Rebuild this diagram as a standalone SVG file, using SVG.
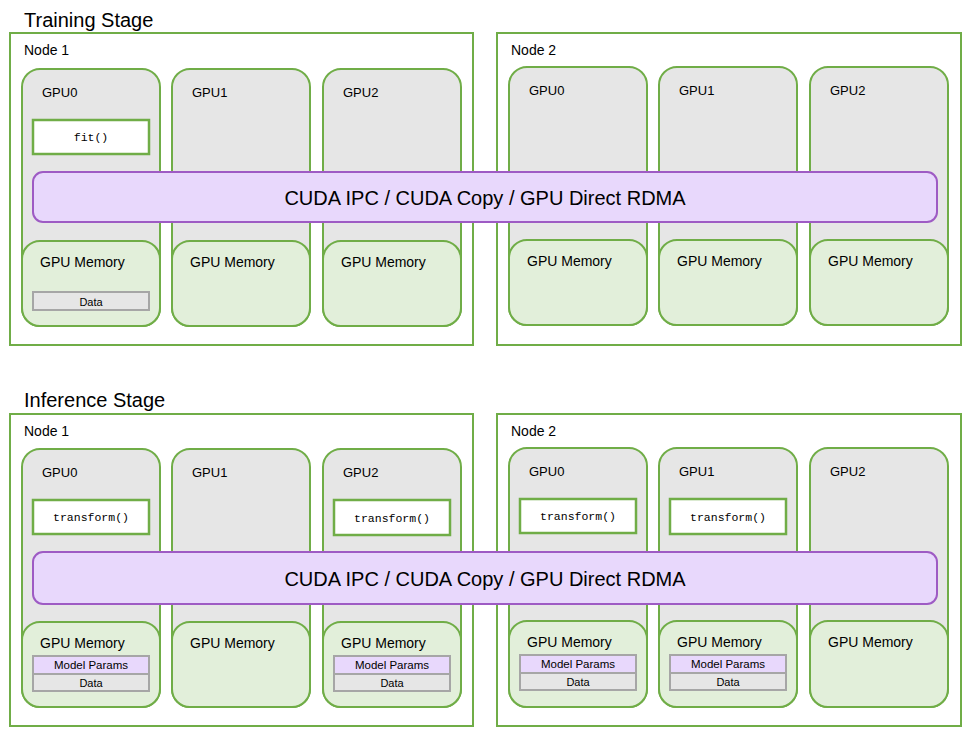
<svg xmlns="http://www.w3.org/2000/svg" width="968" height="737" viewBox="0 0 968 737">
<style>
.t{font-family:"Liberation Sans",Arial,sans-serif;fill:#000}
.title{font-size:20px}
.node{fill:#fff;stroke:#70ad47;stroke-width:2}
.gpu{fill:#e6e6e6;stroke:#70ad47;stroke-width:2}
.mem{fill:#e2efda;stroke:#70ad47;stroke-width:2}
.fn{fill:#fff;stroke:#70ad47;stroke-width:2.5}
.bar{fill:#e8d8fc;stroke:#9e5bc4;stroke-width:2}
.data{fill:#e6e6e6;stroke:#a6a6a6;stroke-width:2}
.mp{fill:#e8d8fc;stroke:#a6a6a6;stroke-width:2}
.lbl{font-size:14px}
.g{font-size:13px}
.m{font-size:14px}
.mono{font-family:"Liberation Mono","DejaVu Sans Mono",monospace;font-size:11.5px;text-anchor:middle}
.s{font-size:11px;text-anchor:middle}
.s2{font-size:11.5px;text-anchor:middle}
.cuda{font-size:20px;text-anchor:middle}
</style>

<text class="t title" x="24" y="27">Training Stage</text>
<text class="t title" x="24" y="407">Inference Stage</text>

<!-- Training Stage -->
<g id="train-node1">
<rect class="node" x="10" y="33" width="463" height="312"/>
<text class="t lbl" x="24" y="55">Node 1</text>
<g id="train-n1-gpu0">
<rect class="gpu" x="22" y="69" width="138" height="257" rx="18"/>
<text class="t g" x="42" y="97">GPU0</text>
<rect class="fn" x="33" y="120" width="116" height="34"/>
<text class="mono" x="91" y="141">fit()</text>
<rect class="mem" x="22" y="241" width="138" height="85" rx="18"/>
<text class="t m" x="40" y="267">GPU Memory</text>
<rect class="data" x="33" y="292" width="116" height="18"/>
<text class="t s" x="91" y="306">Data</text>
</g>
<g id="train-n1-gpu1">
<rect class="gpu" x="172" y="69" width="138" height="257" rx="18"/>
<text class="t g" x="192" y="97">GPU1</text>
<rect class="mem" x="172" y="241" width="138" height="85" rx="18"/>
<text class="t m" x="190" y="267">GPU Memory</text>
</g>
<g id="train-n1-gpu2">
<rect class="gpu" x="323" y="69" width="138" height="257" rx="18"/>
<text class="t g" x="343" y="97">GPU2</text>
<rect class="mem" x="323" y="241" width="138" height="85" rx="18"/>
<text class="t m" x="341" y="267">GPU Memory</text>
</g>
</g>

<g id="train-node2">
<rect class="node" x="497" y="33" width="464" height="312"/>
<text class="t lbl" x="511" y="55">Node 2</text>
<g id="train-n2-gpu0">
<rect class="gpu" x="509" y="67" width="138" height="258" rx="18"/>
<text class="t g" x="529" y="95">GPU0</text>
<rect class="mem" x="509" y="240" width="138" height="85" rx="18"/>
<text class="t m" x="527" y="266">GPU Memory</text>
</g>
<g id="train-n2-gpu1">
<rect class="gpu" x="659" y="67" width="138" height="258" rx="18"/>
<text class="t g" x="679" y="95">GPU1</text>
<rect class="mem" x="659" y="240" width="138" height="85" rx="18"/>
<text class="t m" x="677" y="266">GPU Memory</text>
</g>
<g id="train-n2-gpu2">
<rect class="gpu" x="810" y="67" width="138" height="258" rx="18"/>
<text class="t g" x="830" y="95">GPU2</text>
<rect class="mem" x="810" y="240" width="138" height="85" rx="18"/>
<text class="t m" x="828" y="266">GPU Memory</text>
</g>
</g>

<g id="train-interconnect">
<rect class="bar" x="33" y="172" width="904" height="50" rx="10"/>
<text class="t cuda" x="485" y="205">CUDA IPC / CUDA Copy / GPU Direct RDMA</text>
</g>

<!-- Inference Stage -->
<g id="inf-node1">
<rect class="node" x="10" y="414" width="463" height="312"/>
<text class="t lbl" x="24" y="436">Node 1</text>
<g id="inf-n1-gpu0">
<rect class="gpu" x="22" y="449" width="138" height="258" rx="18"/>
<text class="t g" x="42" y="477">GPU0</text>
<rect class="fn" x="33" y="500" width="116" height="34"/>
<text class="mono" x="91" y="521">transform()</text>
<rect class="mem" x="22" y="622" width="138" height="85" rx="18"/>
<text class="t m" x="40" y="648">GPU Memory</text>
<rect class="mp" x="33" y="656" width="116" height="18"/>
<text class="t s2" x="91" y="669">Model Params</text>
<rect class="data" x="33" y="674" width="116" height="17"/>
<text class="t s" x="91" y="687">Data</text>
</g>
<g id="inf-n1-gpu1">
<rect class="gpu" x="172" y="449" width="138" height="258" rx="18"/>
<text class="t g" x="192" y="477">GPU1</text>
<rect class="mem" x="172" y="622" width="138" height="85" rx="18"/>
<text class="t m" x="190" y="648">GPU Memory</text>
</g>
<g id="inf-n1-gpu2">
<rect class="gpu" x="323" y="449" width="138" height="258" rx="18"/>
<text class="t g" x="343" y="477">GPU2</text>
<rect class="fn" x="334" y="500" width="116" height="35"/>
<text class="mono" x="392" y="522">transform()</text>
<rect class="mem" x="323" y="622" width="138" height="85" rx="18"/>
<text class="t m" x="341" y="648">GPU Memory</text>
<rect class="mp" x="334" y="656" width="116" height="18"/>
<text class="t s2" x="392" y="669">Model Params</text>
<rect class="data" x="334" y="674" width="116" height="17"/>
<text class="t s" x="392" y="687">Data</text>
</g>
</g>

<g id="inf-node2">
<rect class="node" x="497" y="414" width="464" height="312"/>
<text class="t lbl" x="511" y="436">Node 2</text>
<g id="inf-n2-gpu0">
<rect class="gpu" x="509" y="448" width="138" height="259" rx="18"/>
<text class="t g" x="529" y="476">GPU0</text>
<rect class="fn" x="520" y="499" width="116" height="34"/>
<text class="mono" x="578" y="520">transform()</text>
<rect class="mem" x="509" y="621" width="138" height="86" rx="18"/>
<text class="t m" x="527" y="647">GPU Memory</text>
<rect class="mp" x="520" y="655" width="116" height="18"/>
<text class="t s2" x="578" y="668">Model Params</text>
<rect class="data" x="520" y="673" width="116" height="17"/>
<text class="t s" x="578" y="686">Data</text>
</g>
<g id="inf-n2-gpu1">
<rect class="gpu" x="659" y="448" width="138" height="259" rx="18"/>
<text class="t g" x="679" y="476">GPU1</text>
<rect class="fn" x="670" y="499" width="116" height="35"/>
<text class="mono" x="728" y="521">transform()</text>
<rect class="mem" x="659" y="621" width="138" height="86" rx="18"/>
<text class="t m" x="677" y="647">GPU Memory</text>
<rect class="mp" x="670" y="655" width="116" height="18"/>
<text class="t s2" x="728" y="668">Model Params</text>
<rect class="data" x="670" y="673" width="116" height="17"/>
<text class="t s" x="728" y="686">Data</text>
</g>
<g id="inf-n2-gpu2">
<rect class="gpu" x="810" y="448" width="138" height="259" rx="18"/>
<text class="t g" x="830" y="476">GPU2</text>
<rect class="mem" x="810" y="621" width="138" height="86" rx="18"/>
<text class="t m" x="828" y="647">GPU Memory</text>
</g>
</g>

<g id="inf-interconnect">
<rect class="bar" x="33" y="552" width="904" height="52" rx="10"/>
<text class="t cuda" x="485" y="586">CUDA IPC / CUDA Copy / GPU Direct RDMA</text>
</g>

<g id="connectors"></g>
</svg>
